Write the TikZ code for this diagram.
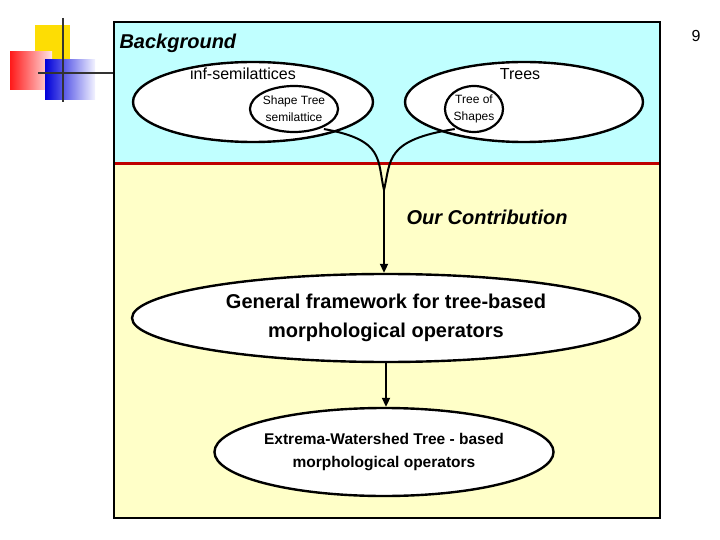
\documentclass[tikz,border=0pt]{standalone}
\usepackage{fontspec}
\setmainfont{Liberation Sans}
\usetikzlibrary{arrows.meta,shapes.geometric}
\definecolor{bgc}{RGB}{192,255,255}
\definecolor{ocy}{RGB}{255,255,200}
\begin{document}
\begin{tikzpicture}[x=1pt,y=-1pt,
  ell/.style={draw,line width=2.4pt,fill=white,ellipse,inner sep=0pt,align=center},
  con/.style={line width=2pt},
  arr/.style={con,-{Triangle[length=9pt,width=8pt]}}]
\useasboundingbox (0,0) rectangle (720,540);
% logo
\fill[yellow!80!orange] (35,25) rectangle (70,60);
\shade[left color=red!90,right color=red!10] (10,52) rectangle (52,90);
\shade[left color=blue!85!black,right color=blue!5] (45,60) rectangle (95,100);
\draw[line width=2pt,black!80] (63,18) -- (63,102);
\draw[line width=2pt,black!80] (38,73) -- (114,73);
% panels
\fill[bgc] (114,22) rectangle (660,164);
\fill[ocy] (114,164) rectangle (660,518);
\draw[red!75!black,line width=3pt] (114,164) -- (660,164);
\draw[line width=1.5pt] (114,22) rectangle (660,518);
\node[anchor=west,font=\bfseries\itshape\fontsize{20}{24}\selectfont] (bg) at (116,43) {Background};
\node[font=\fontsize{16}{18}\selectfont] (nine) at (696,36) {9};
% ellipses
\node[ell,minimum width=240pt,minimum height=80pt] (le) at (253,102) {};
\node[ell,minimum width=238pt,minimum height=80pt] (re) at (524,102) {};
\node[font=\fontsize{16}{18}\selectfont] (inf) at (243,74) {inf-semilattices};
\node[font=\fontsize{16}{18}\selectfont] (trees) at (520,74) {Trees};
\node[draw,line width=2.2pt,ellipse,minimum width=80pt,minimum height=46pt,inner sep=0pt,align=center,font=\fontsize{12}{17}\selectfont] (st) at (294,109) {Shape Tree\\semilattice};
\node[draw,line width=2.2pt,ellipse,minimum width=58pt,minimum height=46pt,inner sep=0pt,align=center,font=\fontsize{12}{17}\selectfont] (ts) at (474,109) {Tree of\\Shapes};
\coordinate (m) at (384,190);
\draw[con] (st.south east) ++(-2,3) .. controls (385,140) and (377,160) .. (m);
\draw[con] (ts.south west) ++(2,3) .. controls (385,140) and (391,160) .. (m);
\node[anchor=west,font=\bfseries\itshape\fontsize{20}{24}\selectfont] (oc) at (403,217) {Our Contribution};
\node[ell,minimum width=508pt,minimum height=88pt,font=\bfseries\fontsize{20}{29}\selectfont] (gf) at (386,318) {General framework for tree-based\\morphological operators};
\node[ell,minimum width=332pt,minimum height=88pt,font=\bfseries\fontsize{15.5}{23}\selectfont] (ew) at (384,452) {Extrema-Watershed Tree - based\\morphological operators};
\draw[arr] (m) -- (gf.north -| m);
\draw[arr] (gf.south) -- (ew.north -| gf.south);
\end{tikzpicture}
\end{document}
